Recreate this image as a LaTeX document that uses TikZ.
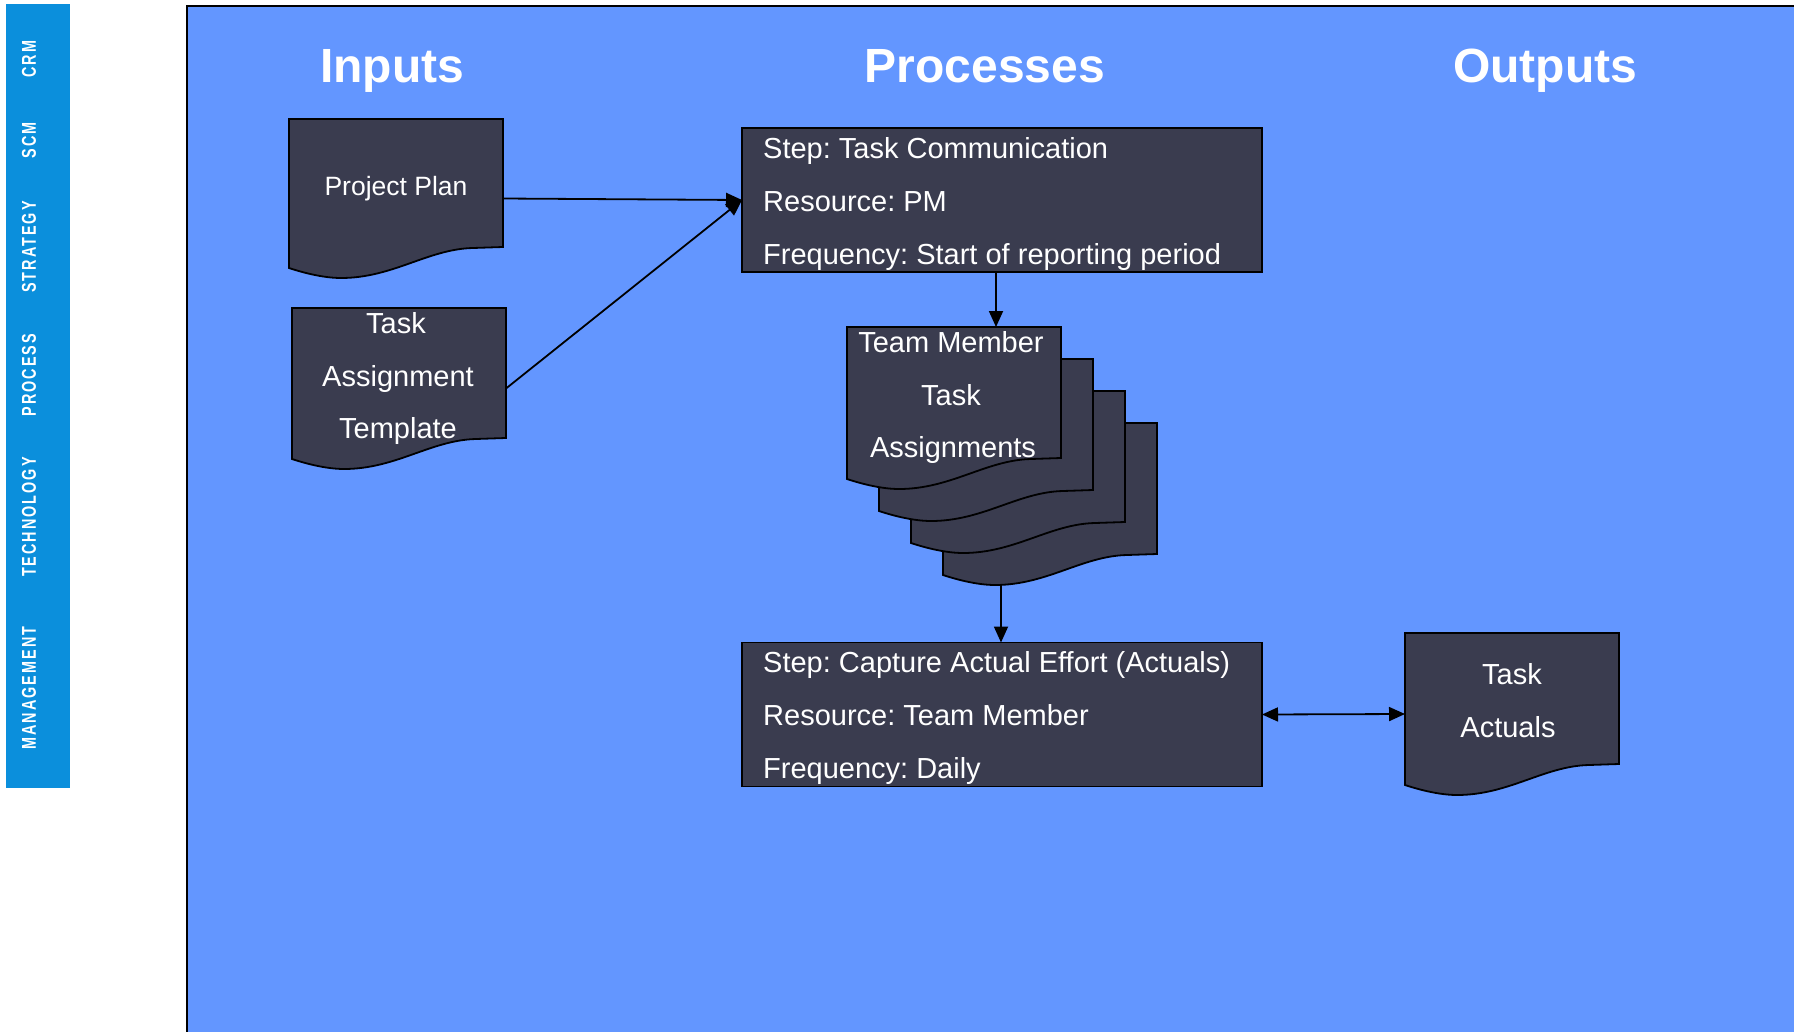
\documentclass[tikz,border=0pt]{standalone}
\usepackage{fontspec}
\setmainfont{Liberation Sans}
\newfontfamily\sidefont[FakeStretch=0.72,LetterSpace=10]{Liberation Sans}
\usetikzlibrary{arrows.meta,calc}
\definecolor{sidebarblue}{HTML}{0B8FDC}
\definecolor{panelblue}{HTML}{6396FF}
\definecolor{docfill}{HTML}{3A3C4F}
\frenchspacing
\tikzset{
  docbox/.style={draw=none, minimum width=214pt, inner sep=0pt, outer sep=0pt},
  docline/.style={fill=docfill, draw=black, line width=1.8pt, line join=miter},
  procbox/.style={fill=docfill, draw=black, line width=1.8pt, minimum width=520pt, minimum height=144pt, inner sep=0pt, outer sep=0pt},
  bodytext/.style={text=white, font=\fontsize{29}{35}\selectfont, inner sep=0pt},
  headtext/.style={text=white, font=\fontsize{48}{58}\selectfont\bfseries, inner sep=0pt, anchor=base},
  sidetext/.style={text=white, font=\sidefont\bfseries\fontsize{20}{24}\selectfont, rotate=90, inner sep=0pt},
  arr/.style={draw=black, line width=1.8pt, -{Triangle[length=16pt,width=14pt]}},
  dblarr/.style={draw=black, line width=1.8pt, {Triangle[length=16pt,width=14pt]}-{Triangle[length=16pt,width=14pt]}},
}
\newcommand\docoutline[1]{%
  \filldraw[docline] (#1.north west) -- (#1.north east)
    -- ([shift={(0,-31)}]#1.south east)
    -- ([shift={(-30,-30)}]#1.south east)
    .. controls ([shift={(-75,-29)}]#1.south east) and ([shift={(-110,0)}]#1.south east)
    .. ([shift={(52,0)}]#1.south west)
    .. controls ([shift={(35,0)}]#1.south west) and ([shift={(15,-5)}]#1.south west)
    .. ([shift={(0,-10)}]#1.south west) -- cycle;}
\begin{document}
\begin{tikzpicture}[x=1pt,y=-1pt]
\useasboundingbox (0,0) rectangle (1794,1031);
% panel and sidebar
\fill[white] (0,0) rectangle (1794,1031);
\draw[fill=panelblue, line width=2pt] (187,6) rectangle (1815,1050);
\fill[sidebarblue] (6,4) rectangle (70,788);
\node[sidetext] (sCRM) at (29,59) {CRM};
\node[sidetext] (sSCM) at (29,140) {SCM};
\node[sidetext] (sSTR) at (29,247) {STRATEGY};
\node[sidetext] (sPRO) at (29,375) {PROCESS};
\node[sidetext] (sTEC) at (29,517) {TECHNOLOGY};
\node[sidetext] (sMAN) at (29,688) {MANAGEMENT};
% headings
\node[headtext] (hIn) at (392,82) {Inputs};
\node[headtext] (hPr) at (985,82) {Processes};
\node[headtext] (hOut) at (1545,82) {Outputs};
% document nodes
\node[docbox, minimum height=159pt] (pp) at (396,198.5) {};
\node[docbox, minimum height=161pt] (tat) at (399,388.5) {};
\node[docbox, minimum height=162pt] (d4) at (1050,504) {};
\node[docbox, minimum height=162pt] (d3) at (1018,472) {};
\node[docbox, minimum height=162pt] (d2) at (986,440) {};
\node[docbox, minimum height=162pt] (d1) at (954,408) {};
\node[docbox, minimum height=162pt] (ta) at (1512,714) {};
\docoutline{pp}
\docoutline{tat}
\docoutline{d4}
\docoutline{d3}
\docoutline{d2}
\docoutline{d1}
\docoutline{ta}
% process boxes
\node[procbox] (p1) at (1002,200) {};
\node[procbox] (p2) at (1002,714.5) {};
% connectors
\draw[arr] (pp.east) -- (p1.west);
\draw[arr] (tat.east) -- (p1.west);
\draw[arr] ([xshift=-6pt]p1.south) -- ([xshift=-6pt]p1.south |- d1.north);
\draw[arr] ([xshift=-1pt]p2.north |- d4.south) -- ([xshift=-1pt]p2.north);
\draw[dblarr] (p2.east) -- (ta.west);
% texts
\node[bodytext, anchor=base, font=\fontsize{26.5}{32}\selectfont] (tpp) at (396,195) {Project Plan};
\node[bodytext, anchor=base] (tat1) at (396,333) {Task};
\node[bodytext, anchor=base] (tat2) at (398,386) {Assignment};
\node[bodytext, anchor=base] (tat3) at (398,438) {Template};
\node[bodytext, anchor=base] (td1) at (951,352) {Team Member};
\node[bodytext, anchor=base] (td2) at (951,405) {Task};
\node[bodytext, anchor=base] (td3) at (953,457) {Assignments};
\node[bodytext, anchor=base] (tta1) at (1512,684) {Task};
\node[bodytext, anchor=base] (tta2) at (1508,737) {Actuals};
\node[bodytext, anchor=base west] (tp1a) at (763,158) {Step: Task Communication};
\node[bodytext, anchor=base west] (tp1b) at (763,211) {Resource: PM};
\node[bodytext, anchor=base west] (tp1c) at (763,264) {Frequency: Start of reporting period};
\node[bodytext, anchor=base west] (tp2a) at (763,672) {Step: Capture Actual Effort (Actuals)};
\node[bodytext, anchor=base west] (tp2b) at (763,725) {Resource: Team Member};
\node[bodytext, anchor=base west] (tp2c) at (763,778) {Frequency: Daily};
\end{tikzpicture}
\end{document}
